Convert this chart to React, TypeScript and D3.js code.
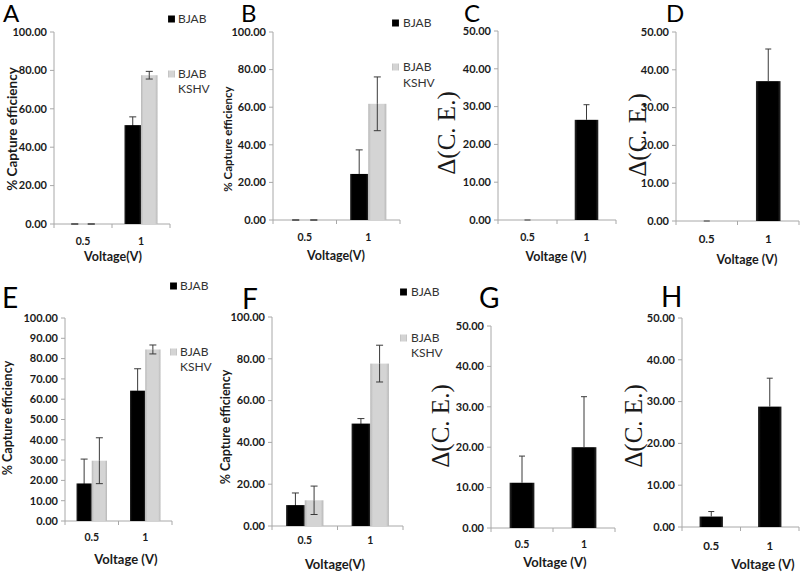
import React from "react";
import * as d3 from "d3";

// ---------- data ----------
const categories = ["0.5", "1"];

const aBJAB = [0, 51.5];
const aBJABErr = [0, 4.3];
const aKSHV = [0, 77.5];
const aKSHVErr = [0, 2.0];

const bBJAB = [0, 24.5];
const bBJABErr = [0, 12.8];
const bKSHV = [0, 61.8];
const bKSHVErr = [0, 14.3];

const cDelta = [0, 26.5];
const cDeltaErr = [0, 4.0];

const dDelta = [0, 37.0];
const dDeltaErr = [0, 8.5];

const eBJAB = [18.5, 64.2];
const eBJABErr = [12.0, 10.8];
const eKSHV = [29.7, 84.5];
const eKSHVErr = [11.3, 2.2];

const fBJAB = [10.0, 49.0];
const fBJABErr = [5.8, 2.4];
const fKSHV = [12.3, 77.7];
const fKSHVErr = [6.8, 8.8];

const gDelta = [11.2, 20.0];
const gDeltaErr = [6.6, 12.5];

const hDelta = [2.5, 28.8];
const hDeltaErr = [1.2, 6.8];

const legendLabels = ["BJAB", "BJAB", "KSHV"];
const captureTitle = "% Capture efficiency";
const deltaTitle = "Δ(C. E.)";

// ---------- layout ----------
type Series = { values: number[]; errs: number[]; kind: "black" | "gray"; both: boolean };
type Panel = {
  letter: string; lx: number; ly: number; lsize: number;
  x0: number; x1: number; yTop: number; yBot: number; max: number; step: number;
  series: Series[];
  yTitle: string; ytx: number; yty: number; ytSize: number; ytSerif: boolean;
  xTitle: string; xtx: number; xty: number; xtSize: number;
  tickY: number; tickSize: number;
  legend?: { sx: number; tx: number; r1: number; r2: number; r3: number };
};

const panels: Panel[] = [
  {
    letter: "A", lx: 3, ly: 22, lsize: 24,
    x0: 54, x1: 170, yTop: 32, yBot: 224, max: 100, step: 20,
    series: [
      { values: aBJAB, errs: aBJABErr, kind: "black", both: true },
      { values: aKSHV, errs: aKSHVErr, kind: "gray", both: true },
    ],
    yTitle: captureTitle, ytx: 12, yty: 129, ytSize: 13.5, ytSerif: false,
    xTitle: "Voltage(V)", xtx: 113, xty: 261, xtSize: 12.5,
    tickY: 245, tickSize: 10.5,
    legend: { sx: 168, tx: 178, r1: 19, r2: 74, r3: 89 },
  },
  {
    letter: "B", lx: 241, ly: 22, lsize: 24,
    x0: 273, x1: 400, yTop: 32, yBot: 220, max: 100, step: 20,
    series: [
      { values: bBJAB, errs: bBJABErr, kind: "black", both: true },
      { values: bKSHV, errs: bKSHVErr, kind: "gray", both: true },
    ],
    yTitle: captureTitle, ytx: 228, yty: 139, ytSize: 11.5, ytSerif: false,
    xTitle: "Voltage(V)", xtx: 336, xty: 260, xtSize: 12.5,
    tickY: 241, tickSize: 10.5,
    legend: { sx: 392, tx: 403, r1: 23, r2: 67, r3: 83 },
  },
  {
    letter: "C", lx: 464, ly: 22, lsize: 24,
    x0: 498, x1: 616, yTop: 31, yBot: 220, max: 50, step: 10,
    series: [{ values: cDelta, errs: cDeltaErr, kind: "black", both: false }],
    yTitle: deltaTitle, ytx: 446, yty: 133, ytSize: 25, ytSerif: true,
    xTitle: "Voltage (V)", xtx: 556, xty: 261, xtSize: 12.5,
    tickY: 241, tickSize: 10.5,
  },
  {
    letter: "D", lx: 666, ly: 22, lsize: 24,
    x0: 676, x1: 799, yTop: 32, yBot: 221, max: 50, step: 10,
    series: [{ values: dDelta, errs: dDeltaErr, kind: "black", both: false }],
    yTitle: deltaTitle, ytx: 637, yty: 135, ytSize: 25, ytSerif: true,
    xTitle: "Voltage (V)", xtx: 747, xty: 264, xtSize: 12.5,
    tickY: 243, tickSize: 11.5,
  },
  {
    letter: "E", lx: 2, ly: 308, lsize: 28,
    x0: 65, x1: 172, yTop: 318, yBot: 521, max: 100, step: 10,
    series: [
      { values: eBJAB, errs: eBJABErr, kind: "black", both: true },
      { values: eKSHV, errs: eKSHVErr, kind: "gray", both: true },
    ],
    yTitle: captureTitle, ytx: 8, yty: 418, ytSize: 12.5, ytSerif: false,
    xTitle: "Voltage (V)", xtx: 126, xty: 564, xtSize: 13,
    tickY: 541, tickSize: 10.5,
    legend: { sx: 170, tx: 180, r1: 286, r2: 352, r3: 367 },
  },
  {
    letter: "F", lx: 242, ly: 309, lsize: 28,
    x0: 272, x1: 403, yTop: 317, yBot: 526, max: 100, step: 20,
    series: [
      { values: fBJAB, errs: fBJABErr, kind: "black", both: true },
      { values: fKSHV, errs: fKSHVErr, kind: "gray", both: true },
    ],
    yTitle: captureTitle, ytx: 226, yty: 427, ytSize: 12.5, ytSerif: false,
    xTitle: "Voltage(V)", xtx: 335, xty: 569, xtSize: 13,
    tickY: 544, tickSize: 10.5,
    legend: { sx: 400, tx: 411, r1: 292, r2: 338, r3: 353 },
  },
  {
    letter: "G", lx: 479, ly: 308, lsize: 28,
    x0: 491, x1: 615, yTop: 326, yBot: 528, max: 50, step: 10,
    series: [{ values: gDelta, errs: gDeltaErr, kind: "black", both: false }],
    yTitle: deltaTitle, ytx: 440, yty: 426, ytSize: 25, ytSerif: true,
    xTitle: "Voltage (V)", xtx: 555, xty: 567, xtSize: 13,
    tickY: 548, tickSize: 10.5,
  },
  {
    letter: "H", lx: 661, ly: 307, lsize: 28,
    x0: 682, x1: 799, yTop: 318, yBot: 527, max: 50, step: 10,
    series: [{ values: hDelta, errs: hDeltaErr, kind: "black", both: false }],
    yTitle: deltaTitle, ytx: 633, yty: 426, ytSize: 25, ytSerif: true,
    xTitle: "Voltage (V)", xtx: 763, xty: 569, xtSize: 13,
    tickY: 550, tickSize: 11.5,
  },
];

const SANS = "Lato, 'Liberation Sans', sans-serif";
const SERIF = "'Liberation Serif', 'DejaVu Serif', serif";
const AXIS = "#a8a8a8";
const ERR = "#3a3a3a";

function PanelView({ p, idx }: { p: Panel; idx: number }) {
  const x = d3.scaleBand<string>().domain(categories).range([p.x0, p.x1]).padding(0);
  const y = d3.scaleLinear().domain([0, p.max]).range([p.yBot, p.yTop]);
  const ticks = d3.range(0, p.max + p.step / 2, p.step);
  const fmt = d3.format(".2f");
  const bw = x.bandwidth();
  const n = p.series.length;
  const groupW = n === 1 ? bw * 0.4 : bw * 0.57;
  const sub = d3.scaleBand<number>().domain(d3.range(n)).range([-groupW / 2, groupW / 2]).padding(0);
  const grayId = `gray-${idx}`;
  const blackId = `black-${idx}`;

  return (
    <g>
      <defs>
        <linearGradient id={grayId} x1="0" x2="1" y1="0" y2="0">
          <stop offset="0" stopColor="#b8b8b8" />
          <stop offset="0.15" stopColor="#d4d4d4" />
          <stop offset="0.85" stopColor="#d4d4d4" />
          <stop offset="1" stopColor="#b8b8b8" />
        </linearGradient>
        <linearGradient id={blackId} x1="0" x2="1" y1="0" y2="0">
          <stop offset="0" stopColor="#2a2a2a" />
          <stop offset="0.12" stopColor="#000" />
          <stop offset="0.88" stopColor="#000" />
          <stop offset="1" stopColor="#2a2a2a" />
        </linearGradient>
      </defs>

      {/* panel letter */}
      <text x={p.lx} y={p.ly} fontFamily={SANS} fontSize={p.lsize} fill="#000">{p.letter}</text>

      {/* y axis */}
      <line x1={p.x0} x2={p.x0} y1={p.yTop} y2={p.yBot} stroke={AXIS} />
      {ticks.map((t) => (
        <g key={t}>
          <line x1={p.x0 - 4} x2={p.x0} y1={y(t)} y2={y(t)} stroke={AXIS} />
          <text x={p.x0 - 7} y={y(t)} dy="0.35em" textAnchor="end" fontFamily={SANS}
            fontWeight="bold" fontSize={11} fill="#1a1a1a">{fmt(t)}</text>
        </g>
      ))}

      {/* x axis */}
      <line x1={p.x0} x2={p.x1} y1={p.yBot} y2={p.yBot} stroke={AXIS} />
      {[...categories.map((c) => x(c) as number), p.x1].map((v, i) => (
        <line key={i} x1={v} x2={v} y1={p.yBot} y2={p.yBot + 4} stroke={AXIS} />
      ))}
      {categories.map((c) => (
        <text key={c} x={(x(c) as number) + bw / 2} y={p.tickY} textAnchor="middle"
          fontFamily={SANS} fontWeight="bold" fontSize={p.tickSize} fill="#1a1a1a">{c}</text>
      ))}

      {/* bars */}
      {p.series.map((s, si) =>
        categories.map((c, ci) => {
          const cx = (x(c) as number) + bw / 2;
          const bx = cx + (sub(si) as number);
          const w = sub.bandwidth();
          const v = s.values[ci];
          const e = s.errs[ci];
          const mid = bx + w / 2;
          const top = y(v + e);
          const bot = s.both ? y(Math.max(0, v - e)) : y(v);
          const cap = n === 1 ? 3 : 3.5;
          const lowColor = s.kind === "black" ? "#000" : ERR;
          return (
            <g key={`${si}-${ci}`}>
              <rect x={bx} y={y(v)} width={w} height={p.yBot - y(v)}
                fill={s.kind === "black" ? `url(#${blackId})` : `url(#${grayId})`} />
              <line x1={mid} x2={mid} y1={top} y2={y(v)} stroke={ERR} />
              <line x1={mid - cap} x2={mid + cap} y1={top} y2={top} stroke={ERR} />
              {s.both && (
                <g>
                  <line x1={mid} x2={mid} y1={y(v)} y2={bot} stroke={lowColor} />
                  <line x1={mid - cap} x2={mid + cap} y1={bot} y2={bot} stroke={v === 0 ? ERR : lowColor} />
                </g>
              )}
            </g>
          );
        })
      )}

      {/* y title */}
      <text transform={`translate(${p.ytx},${p.yty}) rotate(-90)`} textAnchor="middle" dy="0.35em"
        fontFamily={p.ytSerif ? SERIF : SANS} fontWeight={p.ytSerif ? "normal" : "bold"}
        fontSize={p.ytSize} fill="#1a1a1a">{p.yTitle}</text>

      {/* x title */}
      <text x={p.xtx} y={p.xty} textAnchor="middle" fontFamily={SANS} fontWeight="bold"
        fontSize={p.xtSize} fill="#1a1a1a">{p.xTitle}</text>

      {/* legend */}
      {p.legend && (
        <g fontFamily={SANS} fontSize={12} fill="#333">
          <rect x={p.legend.sx} y={p.legend.r1 - 3.5} width={7} height={7} fill={`url(#${blackId})`} />
          <text x={p.legend.tx} y={p.legend.r1} dy="0.35em">{legendLabels[0]}</text>
          <rect x={p.legend.sx} y={p.legend.r2 - 3.5} width={7} height={7} fill={`url(#${grayId})`} />
          <text x={p.legend.tx} y={p.legend.r2} dy="0.35em">{legendLabels[1]}</text>
          <text x={p.legend.tx} y={p.legend.r3} dy="0.35em">{legendLabels[2]}</text>
        </g>
      )}
    </g>
  );
}

export default function App() {
  return (
    <svg width={800} height={573} viewBox="0 0 800 573"
      style={{ position: "absolute", left: 0, top: 0, background: "#fff" }}>
      <rect x={0} y={0} width={800} height={573} fill="#fff" />
      {panels.map((p, i) => (
        <PanelView key={p.letter} p={p} idx={i} />
      ))}
    </svg>
  );
}
